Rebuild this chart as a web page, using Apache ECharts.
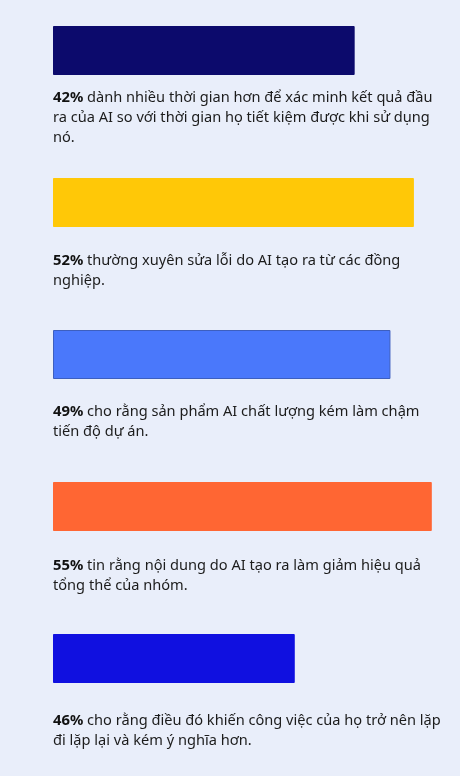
<!DOCTYPE html>
<html>
<head>
<meta charset="utf-8">
<script src="https://cdn.jsdelivr.net/npm/echarts@6/dist/echarts.min.js"></script>
<style>
  html, body { margin: 0; padding: 0; background: #e9eefa; }
  #main { width: 460px; height: 776px; }
</style>
</head>
<body>
<div id="main"></div>
<script>
// số liệu khảo sát
const percents = ['42%', '52%', '49%', '55%', '46%'];
const descriptions = [
    'dành nhiều thời gian hơn để xác minh kết quả đầu\nra của AI so với thời gian họ tiết kiệm được khi sử dụng\nnó.',
    'thường xuyên sửa lỗi do AI tạo ra từ các đồng\nnghiệp.',
    'cho rằng sản phẩm AI chất lượng kém làm chậm\ntiến độ dự án.',
    'tin rằng nội dung do AI tạo ra làm giảm hiệu quả\ntổng thể của nhóm.',
    'cho rằng điều đó khiến công việc của họ trở nên lặp\nđi lặp lại và kém ý nghĩa hơn.'
];
// độ dài thanh đo trên hình
const barLengths = [43.8, 52.4, 49, 55, 35.1];

const barColors = ['#0c0a6c', '#ffc807', '#4a78fb', '#ff6633', '#1010e0'];
const borderColors = ['#0c0a6c', '#ffc807', '#3d5fbf', '#ff6633', '#1010e0'];
const textTop = [62, 73, 72, 74, 77];

const chart = echarts.init(document.getElementById('main'), null, { renderer: 'canvas' });

const list = [];
for (let i = 0; i < barLengths.length; i++) {
    list.push({
        value: barLengths[i],
        itemStyle: { color: barColors[i], borderColor: borderColors[i], borderWidth: 1 },
        label: {
            position: [0, textTop[i]],
            formatter: '{p|' + percents[i] + '} ' + descriptions[i]
        }
    });
}

const option = {
    backgroundColor: '#e9eefa',
    animation: false,
    grid: { left: 53, right: 0, top: 50.5, height: 608 },
    xAxis: { type: 'value', min: 0, max: 59.1, show: false },
    yAxis: { type: 'category', inverse: true, show: false, boundaryGap: false, data: percents },
    series: [
        {
            type: 'bar',
            barWidth: 49,
            data: list,
            label: {
                show: true,
                align: 'left',
                verticalAlign: 'top',
                fontFamily: 'Noto Sans',
                fontSize: 14.6,
                lineHeight: 20,
                color: '#1c1c1c',
                rich: {
                    p: { fontFamily: 'Noto Sans', fontSize: 14.8, fontWeight: 'bold', color: '#111111', lineHeight: 20 }
                }
            }
        }
    ]
};
chart.setOption(option);
</script>
</body>
</html>
